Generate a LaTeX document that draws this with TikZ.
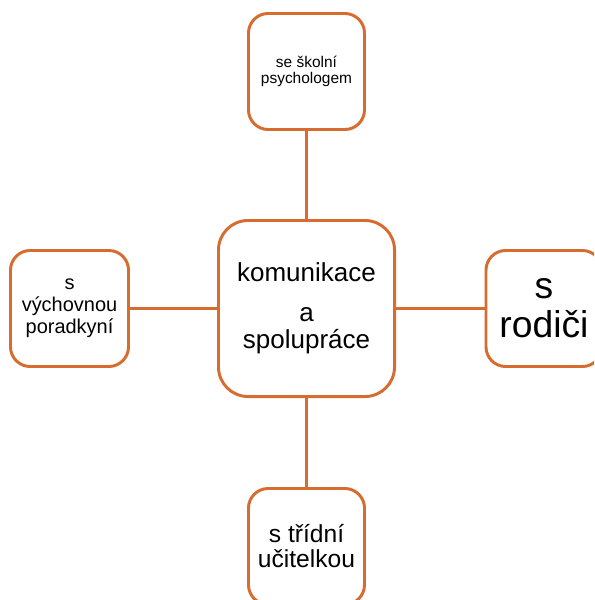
\documentclass[tikz,border=0pt]{standalone}
\usepackage{fontspec}
\setmainfont{Liberation Sans}
\usetikzlibrary{positioning}
\definecolor{boxorange}{RGB}{214,108,48}

\begin{document}
\begin{tikzpicture}[x=0.025cm,y=-0.025cm,
    topic/.style={draw=boxorange, line width=2.1pt, rounded corners=14pt, fill=white,
        minimum width=2.9cm, minimum height=2.9cm, align=center, inner sep=0pt},
    link/.style={draw=boxorange, line width=2.1pt}]
    \clip (0,0) rectangle (594,600);
    \useasboundingbox (0,0) rectangle (594,600);

    % Centre box
    \node[topic, minimum width=4.4cm, minimum height=4.4cm, rounded corners=21pt,
        font=\fontsize{18.5}{19}\selectfont] (centre) at (306.5,308.5)
        {komunikace\\[9.5pt] a\\ spolupráce};

    % Outer boxes
    \node[topic, font=\fontsize{11}{11.5}\selectfont] (psych) at (306.5,71.5) {se školní\\ psychologem};
    \node[topic, minimum width=2.95cm, font=\fontsize{14.2}{15.6}\selectfont] (advisor) at (69.5,308.5) {s\\ výchovnou\\ poradkyní};
    \node[topic, font=\fontsize{26.5}{27.7}\selectfont] (parents) at (544,308.5) {s\\ rodiči};
    \node[topic, font=\fontsize{17.5}{17.8}\selectfont] (teacher) at (306.5,546.5) {s třídní\\ učitelkou};

    % Connectors
    \draw[link] (psych) -- (centre);
    \draw[link] (advisor) -- (centre);
    \draw[link] (parents) -- (centre);
    \draw[link] (teacher) -- (centre);
\end{tikzpicture}
\end{document}
